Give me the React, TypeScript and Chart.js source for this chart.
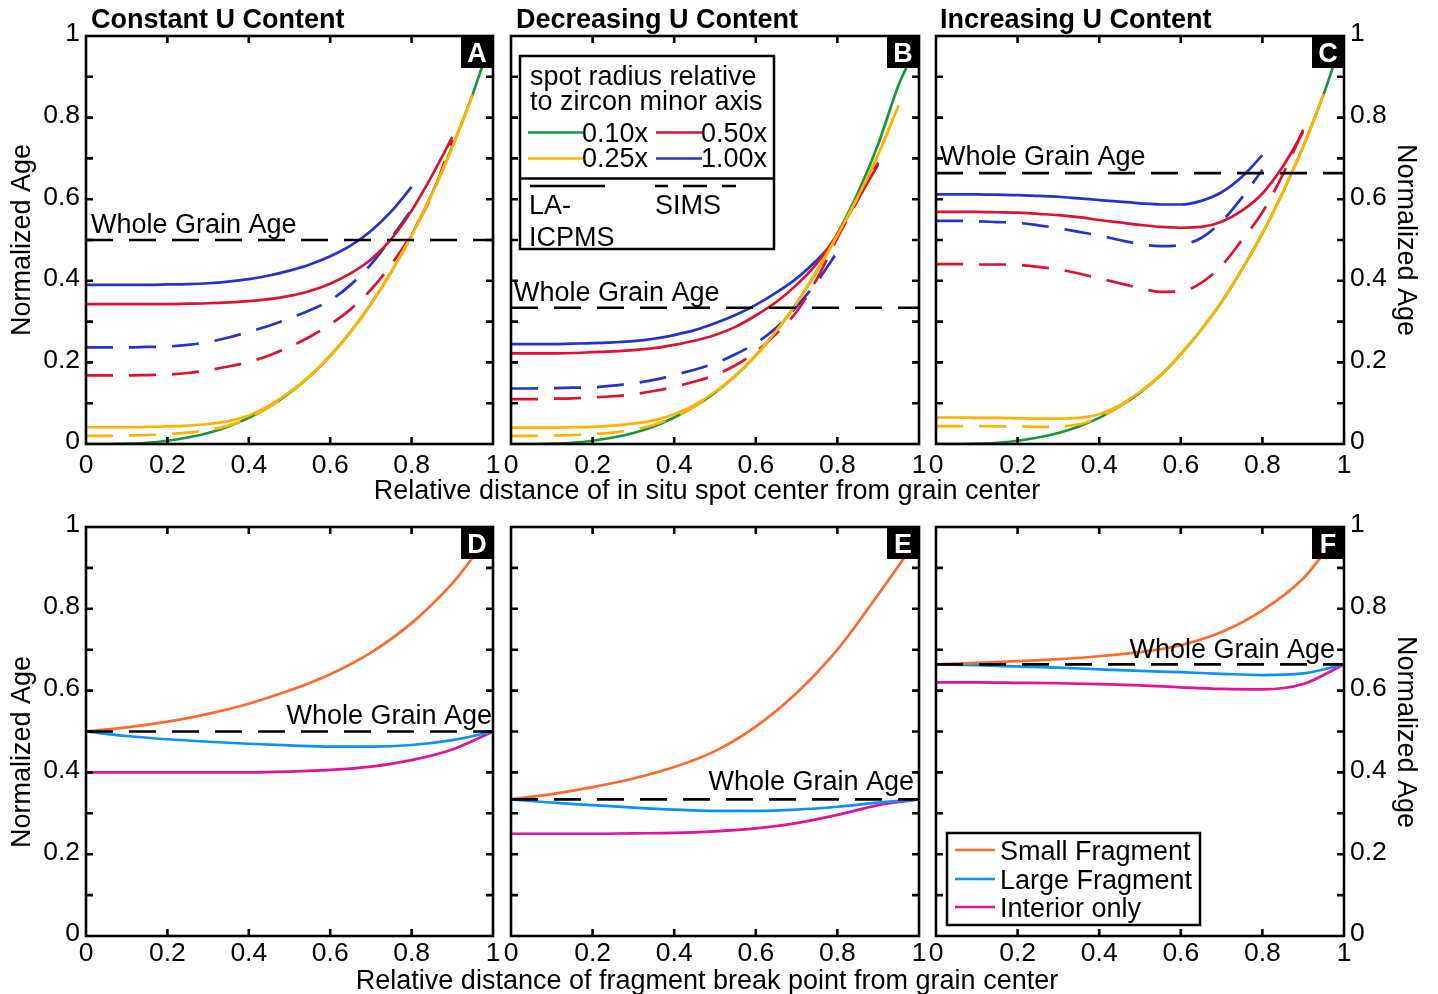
import React, { useEffect, useRef } from "react";
import { Chart, registerables } from "chart.js";
Chart.register(...registerables);

const W = 1438;
const H = 994;
const FONT = "'Liberation Sans', Arial, Helvetica, sans-serif";
const TEXT_SIZE = 27;
const TICK_SIZE = 26.5;

const C_GREEN = "#12993d";
const C_YELLOW = "#ffb300";
const C_RED = "#e0112f";
const C_BLUE = "#2233d0";
const C_ORANGE = "#ff6a2b";
const C_LBLUE = "#0b92fa";
const C_MAGENTA = "#e2129a";

const DASH = [27, 16];
const LINE_W = 2.7;

// ---------- x grids ----------
const X05 = [0, 0.05, 0.1, 0.15, 0.2, 0.25, 0.3, 0.35, 0.4, 0.45, 0.5, 0.55, 0.6, 0.65, 0.7, 0.75, 0.8, 0.85, 0.9, 0.95];
const X_TO_080 = X05.slice(0, 17);
const X_TO_090 = X05.slice(0, 19);
const X_TO_095 = X05;
const X_GREEN = [...X05, 0.975];
const X10 = [0, 0.1, 0.2, 0.3, 0.4, 0.5, 0.6, 0.7, 0.8, 0.9, 1.0];
const X_SMALL = [0, 0.1, 0.2, 0.3, 0.4, 0.5, 0.6, 0.7, 0.8, 0.9, 0.95, 1.0];

// ---------- whole grain ages ----------
const WGA_A = 0.5;
const WGA_B = 0.334;
const WGA_C = 0.664;
const WGA_D = 0.5;
const WGA_E = 0.334;
const WGA_F = 0.664;

// ---------- Panel A: constant U ----------
const A_GREEN = [0, 0, 0.001, 0.003, 0.008, 0.016, 0.027, 0.043, 0.064, 0.091, 0.125, 0.166, 0.216, 0.275, 0.343, 0.422, 0.512, 0.614, 0.729, 0.857, 0.93];
const A_YEL_LA = [0.041, 0.041, 0.041, 0.042, 0.043, 0.045, 0.049, 0.056, 0.07, 0.094, 0.127, 0.167, 0.217, 0.275, 0.343, 0.422, 0.511, 0.612, 0.727, 0.855];
const A_YEL_SIMS = [0.02, 0.02, 0.021, 0.022, 0.024, 0.028, 0.034, 0.045, 0.064, 0.091, 0.125, 0.166, 0.216, 0.275, 0.343, 0.422, 0.512, 0.613, 0.728, 0.856];
const A_RED_LA = [0.343, 0.343, 0.343, 0.343, 0.343, 0.344, 0.345, 0.347, 0.35, 0.355, 0.363, 0.375, 0.393, 0.418, 0.452, 0.502, 0.572, 0.658, 0.752];
const A_RED_SIMS = [0.168, 0.168, 0.168, 0.169, 0.17, 0.174, 0.181, 0.19, 0.201, 0.217, 0.238, 0.263, 0.293, 0.33, 0.378, 0.44, 0.515, 0.61, 0.745];
const A_BLUE_LA = [0.39, 0.39, 0.39, 0.39, 0.391, 0.392, 0.394, 0.398, 0.404, 0.413, 0.425, 0.44, 0.46, 0.486, 0.522, 0.57, 0.63];
const A_BLUE_SIMS = [0.237, 0.237, 0.237, 0.238, 0.239, 0.243, 0.25, 0.261, 0.275, 0.29, 0.308, 0.328, 0.352, 0.39, 0.44, 0.505, 0.575];

// ---------- Panel B: decreasing U ----------
const B_GREEN = [0, 0, 0.001, 0.003, 0.008, 0.016, 0.027, 0.043, 0.065, 0.092, 0.126, 0.167, 0.217, 0.276, 0.345, 0.425, 0.515, 0.615, 0.735, 0.88, 0.935];
const B_YEL_LA = [0.04, 0.04, 0.04, 0.041, 0.042, 0.045, 0.05, 0.058, 0.073, 0.096, 0.128, 0.168, 0.218, 0.277, 0.345, 0.424, 0.512, 0.605, 0.71, 0.83];
const B_YEL_SIMS = [0.02, 0.02, 0.021, 0.022, 0.024, 0.028, 0.035, 0.047, 0.066, 0.092, 0.126, 0.167, 0.217, 0.276, 0.345, 0.424, 0.512, 0.605, 0.71, 0.83];
const B_RED_LA = [0.222, 0.222, 0.222, 0.223, 0.225, 0.227, 0.23, 0.235, 0.243, 0.253, 0.267, 0.287, 0.315, 0.348, 0.39, 0.443, 0.515, 0.6, 0.685];
const B_RED_SIMS = [0.11, 0.11, 0.111, 0.112, 0.114, 0.117, 0.122, 0.13, 0.14, 0.153, 0.169, 0.193, 0.226, 0.27, 0.324, 0.405, 0.505, 0.598, 0.69];
const B_BLUE_LA = [0.245, 0.245, 0.245, 0.246, 0.247, 0.249, 0.252, 0.258, 0.267, 0.279, 0.296, 0.316, 0.341, 0.371, 0.406, 0.451, 0.504];
const B_BLUE_SIMS = [0.136, 0.136, 0.137, 0.138, 0.139, 0.143, 0.149, 0.157, 0.169, 0.182, 0.198, 0.22, 0.247, 0.285, 0.337, 0.398, 0.471];

// ---------- Panel C: increasing U ----------
const C_GREEN_V = [0, 0, 0.001, 0.003, 0.008, 0.016, 0.027, 0.043, 0.064, 0.092, 0.126, 0.168, 0.22, 0.28, 0.348, 0.428, 0.516, 0.617, 0.729, 0.857, 0.93];
const C_YEL_LA = [0.065, 0.065, 0.064, 0.064, 0.063, 0.062, 0.062, 0.064, 0.073, 0.095, 0.128, 0.169, 0.221, 0.28, 0.348, 0.428, 0.516, 0.617, 0.729, 0.857];
const C_YEL_SIMS = [0.044, 0.044, 0.044, 0.043, 0.043, 0.042, 0.043, 0.048, 0.065, 0.092, 0.126, 0.168, 0.22, 0.28, 0.348, 0.428, 0.516, 0.617, 0.729, 0.857];
const C_RED_LA = [0.569, 0.569, 0.569, 0.568, 0.567, 0.564, 0.561, 0.556, 0.549, 0.543, 0.537, 0.532, 0.53, 0.532, 0.545, 0.572, 0.614, 0.68, 0.765];
const C_RED_SIMS = [0.441, 0.441, 0.44, 0.44, 0.439, 0.434, 0.428, 0.418, 0.406, 0.394, 0.382, 0.373, 0.374, 0.395, 0.437, 0.5, 0.568, 0.66, 0.77];
const C_BLUE_LA = [0.612, 0.612, 0.612, 0.611, 0.61, 0.608, 0.606, 0.602, 0.598, 0.594, 0.59, 0.587, 0.587, 0.596, 0.617, 0.655, 0.708];
const C_BLUE_SIMS = [0.547, 0.547, 0.546, 0.544, 0.542, 0.536, 0.529, 0.52, 0.511, 0.5, 0.49, 0.485, 0.488, 0.505, 0.545, 0.604, 0.672];

// ---------- Panels D-F: fragments ----------
const D_SMALL = [0.5, 0.51, 0.524, 0.543, 0.568, 0.6, 0.64, 0.693, 0.765, 0.862, 0.925, 0.995];
const D_LARGE = [0.5, 0.489, 0.481, 0.475, 0.47, 0.466, 0.463, 0.463, 0.467, 0.479, 0.5];
const D_INTERIOR = [0.4, 0.4, 0.4, 0.4, 0.4, 0.402, 0.406, 0.414, 0.43, 0.456, 0.5];

const E_SMALL = [0.334, 0.347, 0.364, 0.385, 0.413, 0.452, 0.512, 0.594, 0.7, 0.835, 0.905, 0.98];
const E_LARGE = [0.334, 0.326, 0.32, 0.314, 0.309, 0.306, 0.306, 0.309, 0.316, 0.326, 0.334];
const E_INTERIOR = [0.25, 0.25, 0.25, 0.251, 0.252, 0.256, 0.263, 0.276, 0.296, 0.32, 0.334];

const F_SMALL = [0.664, 0.668, 0.672, 0.677, 0.684, 0.694, 0.711, 0.743, 0.796, 0.874, 0.935, 1.0];
const F_LARGE = [0.664, 0.662, 0.659, 0.656, 0.652, 0.648, 0.645, 0.641, 0.638, 0.642, 0.664];
const F_INTERIOR = [0.62, 0.62, 0.619, 0.618, 0.616, 0.613, 0.608, 0.604, 0.603, 0.616, 0.664];

// ---------- tick steps ----------
const X_TICK_STEP = 0.2;
const Y_TICK_STEP = 0.1;

// ---------- legend entries ----------
const SPOT_LEGEND = [
  { label: "0.10x", color: C_GREEN },
  { label: "0.50x", color: C_RED },
  { label: "0.25x", color: C_YELLOW },
  { label: "1.00x", color: C_BLUE },
];
const FRAG_LEGEND = [
  { label: "Small Fragment", color: C_ORANGE },
  { label: "Large Fragment", color: C_LBLUE },
  { label: "Interior only", color: C_MAGENTA },
];

function spotSeries(green, xg, yla, ysims, rla, rsims, bla, bsims) {
  return [
    { xs: X_TO_095, ys: yla, color: C_YELLOW, dash: false },
    { xs: X_TO_095, ys: ysims, color: C_YELLOW, dash: true },
    { xs: X_TO_090, ys: rla, color: C_RED, dash: false },
    { xs: X_TO_090, ys: rsims, color: C_RED, dash: true },
    { xs: X_TO_080, ys: bla, color: C_BLUE, dash: false },
    { xs: X_TO_080, ys: bsims, color: C_BLUE, dash: true },
    { xs: xg, ys: green, color: C_GREEN, dash: false },
  ];
}
function fragSeries(small, large, interior) {
  return [
    { xs: X_SMALL, ys: small, color: C_ORANGE, dash: false },
    { xs: X10, ys: large, color: C_LBLUE, dash: false },
    { xs: X10, ys: interior, color: C_MAGENTA, dash: false },
  ];
}

const PANELS = [
  {
    key: "A", L: 86, T: 36, R: 493, B: 444, side: "left", wga: WGA_A, xPad: 6,
    series: spotSeries(A_GREEN, X_GREEN, A_YEL_LA, A_YEL_SIMS, A_RED_LA, A_RED_SIMS, A_BLUE_LA, A_BLUE_SIMS),
    texts: [
      { t: "Constant U Content", x: 91, y: 28, bold: true, size: 27 },
      { t: "Whole Grain Age", x: 91, y: 233 },
      { t: "Normalized Age", x: 30, y: 240, align: "center", rot: -90 },
    ],
    legend: null,
  },
  {
    key: "B", L: 511, T: 36, R: 919, B: 444, side: "left", wga: WGA_B, xPad: 6, hideY: true,
    series: spotSeries(B_GREEN, X_GREEN, B_YEL_LA, B_YEL_SIMS, B_RED_LA, B_RED_SIMS, B_BLUE_LA, B_BLUE_SIMS),
    texts: [
      { t: "Decreasing U Content", x: 516, y: 28, bold: true, size: 27 },
      { t: "Whole Grain Age", x: 514, y: 301 },
      { t: "Relative distance of in situ spot center from grain center", x: 707, y: 499, align: "center" },
    ],
    legend: "spot",
  },
  {
    key: "C", L: 936, T: 36, R: 1344, B: 444, side: "right", wga: WGA_C, xPad: 6,
    series: spotSeries(C_GREEN_V, X_GREEN, C_YEL_LA, C_YEL_SIMS, C_RED_LA, C_RED_SIMS, C_BLUE_LA, C_BLUE_SIMS),
    texts: [
      { t: "Increasing U Content", x: 940, y: 28, bold: true, size: 27 },
      { t: "Whole Grain Age", x: 940, y: 165 },
      { t: "Normalized Age", x: 1398, y: 240, align: "center", rot: 90 },
    ],
    legend: null,
  },
  {
    key: "D", L: 86, T: 527, R: 493, B: 936, side: "left", wga: WGA_D, xPad: 2,
    series: fragSeries(D_SMALL, D_LARGE, D_INTERIOR),
    texts: [
      { t: "Whole Grain Age", x: 492, y: 724, align: "right" },
      { t: "Normalized Age", x: 30, y: 752, align: "center", rot: -90 },
    ],
    legend: null,
  },
  {
    key: "E", L: 511, T: 527, R: 919, B: 936, side: "left", wga: WGA_E, xPad: 2, hideY: true,
    series: fragSeries(E_SMALL, E_LARGE, E_INTERIOR),
    texts: [
      { t: "Whole Grain Age", x: 914, y: 790, align: "right" },
      { t: "Relative distance of fragment break point from grain center", x: 707, y: 989, align: "center" },
    ],
    legend: null,
  },
  {
    key: "F", L: 936, T: 527, R: 1344, B: 936, side: "right", wga: WGA_F, xPad: 2,
    series: fragSeries(F_SMALL, F_LARGE, F_INTERIOR),
    texts: [
      { t: "Whole Grain Age", x: 1335, y: 658, align: "right" },
      { t: "Normalized Age", x: 1398, y: 732, align: "center", rot: 90 },
    ],
    legend: "frag",
  },
];

function fmt(v: number) {
  const r = Math.round(v * 10) / 10;
  return String(r);
}

function drawText(ctx, s) {
  ctx.save();
  ctx.font = `${s.bold ? "bold " : ""}${s.size || TEXT_SIZE}px ${FONT}`;
  ctx.fillStyle = s.color || "#000";
  ctx.textAlign = s.align || "left";
  ctx.textBaseline = "alphabetic";
  ctx.translate(s.x, s.y);
  if (s.rot) ctx.rotate((s.rot * Math.PI) / 180);
  ctx.fillText(s.t, 0, 0);
  ctx.restore();
}

function drawSpotLegend(ctx) {
  ctx.save();
  ctx.fillStyle = "#fff";
  ctx.fillRect(520, 56, 254, 193);
  ctx.strokeStyle = "#000";
  ctx.lineWidth = 2.5;
  ctx.strokeRect(520, 56, 254, 193);
  ctx.beginPath();
  ctx.moveTo(520, 178.5);
  ctx.lineTo(774, 178.5);
  ctx.stroke();
  drawText(ctx, { t: "spot radius relative", x: 530, y: 85 });
  drawText(ctx, { t: "to zircon minor axis", x: 530, y: 110 });
  const pos = [
    { lx0: 528, lx1: 583, ly: 132.5, tx: 582, ty: 142 },
    { lx0: 656, lx1: 702, ly: 132.5, tx: 701, ty: 142 },
    { lx0: 528, lx1: 583, ly: 158.5, tx: 582, ty: 167 },
    { lx0: 656, lx1: 702, ly: 158.5, tx: 701, ty: 167 },
  ];
  SPOT_LEGEND.forEach((e, i) => {
    const p = pos[i];
    ctx.strokeStyle = e.color;
    ctx.lineWidth = LINE_W;
    ctx.beginPath();
    ctx.moveTo(p.lx0, p.ly);
    ctx.lineTo(p.lx1, p.ly);
    ctx.stroke();
    drawText(ctx, { t: e.label, x: p.tx, y: p.ty });
  });
  ctx.strokeStyle = "#000";
  ctx.lineWidth = LINE_W;
  ctx.beginPath();
  ctx.moveTo(530, 186);
  ctx.lineTo(605, 186);
  ctx.stroke();
  ctx.setLineDash([24, 15]);
  ctx.lineDashOffset = 11;
  ctx.beginPath();
  ctx.moveTo(655, 186);
  ctx.lineTo(736, 186);
  ctx.stroke();
  ctx.setLineDash([]);
  drawText(ctx, { t: "LA-", x: 529, y: 214 });
  drawText(ctx, { t: "ICPMS", x: 529, y: 246 });
  drawText(ctx, { t: "SIMS", x: 655, y: 214 });
  ctx.restore();
}

function drawFragLegend(ctx) {
  ctx.save();
  ctx.fillStyle = "#fff";
  ctx.fillRect(947, 833, 253, 92);
  ctx.strokeStyle = "#000";
  ctx.lineWidth = 2.5;
  ctx.strokeRect(947, 833, 253, 92);
  const rows = [850, 879, 907];
  FRAG_LEGEND.forEach((e, i) => {
    ctx.strokeStyle = e.color;
    ctx.lineWidth = LINE_W;
    ctx.beginPath();
    ctx.moveTo(955, rows[i]);
    ctx.lineTo(995, rows[i]);
    ctx.stroke();
    drawText(ctx, { t: e.label, x: 1000, y: rows[i] + 10 });
  });
  ctx.restore();
}

function decorPlugin(p) {
  return {
    id: "decor" + p.key,
    afterDatasetsDraw(chart) {
      const { ctx, chartArea: a, scales } = chart;
      ctx.save();
      ctx.strokeStyle = "#000";
      ctx.lineWidth = 2.6;
      ctx.setLineDash([]);
      const TL = 7;
      ctx.beginPath();
      scales.x.ticks.forEach((t) => {
        if (t.value < 0.001 || t.value > 0.999) return;
        const px = scales.x.getPixelForValue(t.value);
        ctx.moveTo(px, a.top);
        ctx.lineTo(px, a.top + TL);
        ctx.moveTo(px, a.bottom);
        ctx.lineTo(px, a.bottom - TL);
      });
      scales.y.ticks.forEach((t) => {
        if (t.value < 0.001 || t.value > 0.999) return;
        const py = scales.y.getPixelForValue(t.value);
        ctx.moveTo(a.left, py);
        ctx.lineTo(a.left + TL, py);
        ctx.moveTo(a.right, py);
        ctx.lineTo(a.right - TL, py);
      });
      ctx.stroke();
      ctx.strokeRect(a.left, a.top, a.right - a.left, a.bottom - a.top);
      // panel letter
      ctx.fillStyle = "#000";
      ctx.fillRect(a.right - 32, a.top, 32, 32);
      ctx.fillStyle = "#fff";
      ctx.font = `bold 27px ${FONT}`;
      ctx.textAlign = "center";
      ctx.textBaseline = "alphabetic";
      ctx.fillText(p.key, a.right - 16, a.top + 26);
      ctx.restore();
      p.texts.forEach((s) => drawText(ctx, s));
      if (p.legend === "spot") drawSpotLegend(ctx);
      if (p.legend === "frag") drawFragLegend(ctx);
    },
  };
}

function buildConfig(p) {
  const YW = 70;
  const XH = 50;
  const left = p.side === "left";
  const datasets: any[] = [
    {
      data: [
        { x: 0, y: p.wga },
        { x: 1, y: p.wga },
      ],
      borderColor: "#000",
      borderWidth: LINE_W,
      borderDash: DASH,
      pointRadius: 0,
      fill: false,
    },
  ];
  p.series.forEach((s) => {
    datasets.push({
      data: s.xs.map((x, i) => ({ x, y: s.ys[i] })),
      borderColor: s.color,
      borderWidth: LINE_W,
      borderDash: s.dash ? DASH : [],
      pointRadius: 0,
      fill: false,
      cubicInterpolationMode: "monotone",
    });
  });
  const tickFont = { family: FONT, size: TICK_SIZE };
  return {
    type: "line",
    data: { datasets },
    options: {
      responsive: false,
      animation: false,
      devicePixelRatio: 1,
      events: [],
      layout: {
        padding: {
          left: left ? p.L - YW : p.L,
          right: left ? W - p.R : W - p.R - YW,
          top: p.T,
          bottom: H - p.B - XH,
        },
      },
      plugins: { legend: { display: false }, tooltip: { enabled: false }, title: { display: false } },
      scales: {
        x: {
          type: "linear",
          min: 0,
          max: 1,
          position: "bottom",
          grid: { display: false, drawTicks: false },
          border: { display: false },
          ticks: {
            stepSize: X_TICK_STEP,
            padding: p.xPad,
            color: "#000",
            font: tickFont,
            maxRotation: 0,
            autoSkip: false,
            callback: (v) => fmt(v),
          },
          afterFit: (s) => {
            s.height = XH;
          },
        },
        y: {
          type: "linear",
          min: 0,
          max: 1,
          position: p.side,
          grid: { display: false, drawTicks: false },
          border: { display: false },
          ticks: {
            display: !p.hideY,
            stepSize: Y_TICK_STEP,
            padding: 6,
            color: "#000",
            font: tickFont,
            autoSkip: false,
            labelOffset: -2,
            callback: (v) => (Math.round(v * 10) % 2 === 0 ? fmt(v) : ""),
          },
          afterFit: (s) => {
            s.width = YW;
          },
        },
      },
    },
    plugins: [decorPlugin(p)],
  };
}

function Panel({ p }) {
  const ref = useRef<HTMLCanvasElement>(null);
  useEffect(() => {
    const chart = new Chart(ref.current as any, buildConfig(p) as any);
    return () => chart.destroy();
  }, []);
  return (
    <canvas
      ref={ref}
      width={W}
      height={H}
      style={{ position: "absolute", left: 0, top: 0, width: W, height: H }}
    />
  );
}

export default function App() {
  return (
    <div style={{ position: "absolute", left: 0, top: 0, width: W, height: H, background: "#fff" }}>
      {PANELS.map((p) => (
        <Panel key={p.key} p={p} />
      ))}
    </div>
  );
}
